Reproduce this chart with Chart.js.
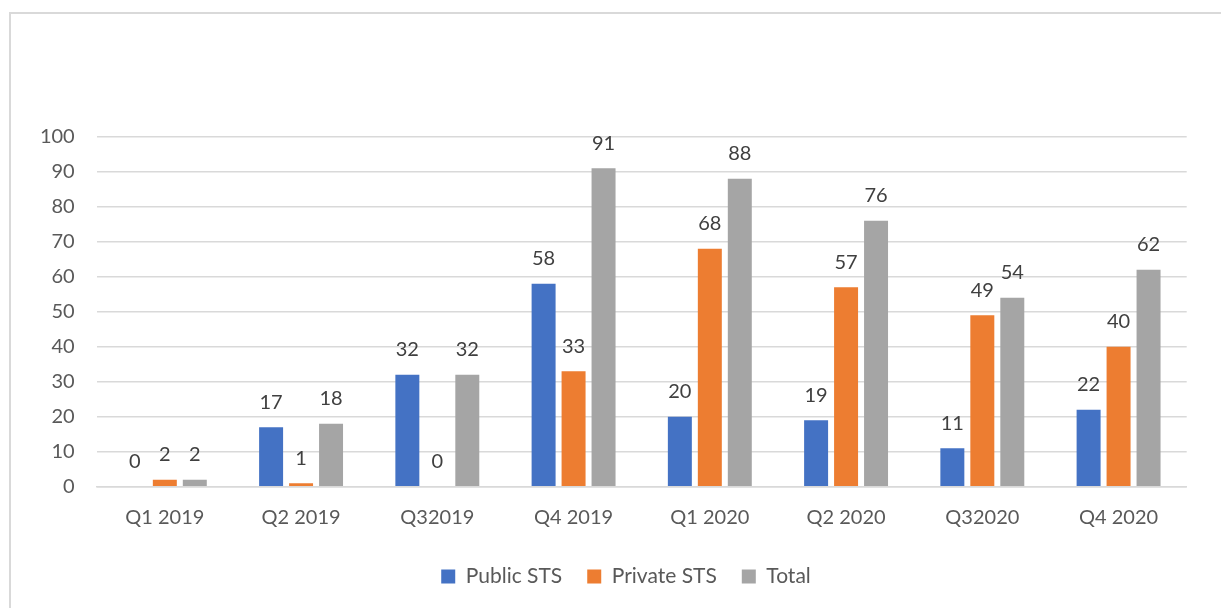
<!DOCTYPE html>
<html>
<head>
<meta charset="utf-8">
<script src="https://cdn.jsdelivr.net/npm/chart.js@4/dist/chart.umd.min.js"></script>
<style>
  html, body { margin: 0; padding: 0; background: #fff; overflow: hidden; width: 1221px; height: 608px; }
  #frame { position: absolute; left: 9px; top: 12px; width: 1240px; height: 620px; border: 2px solid #D9D9D9; box-sizing: border-box; }
  #c { position: absolute; left: 10px; top: 13px; }
</style>
</head>
<body>
<div id="frame"></div>
<canvas id="c" width="1232" height="595"></canvas>
<script>
const categories = ['Q1 2019', 'Q2 2019', 'Q32019', 'Q4 2019', 'Q1 2020', 'Q2 2020', 'Q32020', 'Q4 2020'];
const publicSTS  = [0, 17, 32, 58, 20, 19, 11, 22];
const privateSTS = [2, 1, 0, 33, 68, 57, 49, 40];
const totalSTS   = [2, 18, 32, 91, 88, 76, 54, 62];
const seriesNames = ['Public STS', 'Private STS', 'Total'];
const yTicks = [0, 10, 20, 30, 40, 50, 60, 70, 80, 90, 100];

const FONT = 'Lato, "Open Sans", sans-serif';

const valueLabels = {
  id: 'valueLabels',
  afterDatasetsDraw(chart) {
    const ctx = chart.ctx;
    ctx.save();
    ctx.font = '20px ' + FONT;
    ctx.fillStyle = '#404040';
    ctx.textAlign = 'center';
    ctx.textBaseline = 'middle';
    chart.data.datasets.forEach((ds, i) => {
      const meta = chart.getDatasetMeta(i);
      meta.data.forEach((el, j) => {
        ctx.fillText(String(ds.data[j]), el.x, el.y - 25);
      });
    });
    ctx.restore();
  }
};

// centre the legend on the whole canvas rather than on the padded area
const legendCentre = {
  id: 'legendCentre',
  afterLayout(chart) {
    const lg = chart.legend;
    if (!lg) return;
    const shift = (chart.width - lg.right - lg.left) / 2;
    lg.left += shift;
    lg.right += shift;
  }
};

new Chart(document.getElementById('c'), {
  type: 'bar',
  data: {
    labels: categories,
    datasets: [
      { label: seriesNames[0], data: publicSTS,  backgroundColor: '#4472C4' },
      { label: seriesNames[1], data: privateSTS, backgroundColor: '#ED7D31' },
      { label: seriesNames[2], data: totalSTS,   backgroundColor: '#A5A5A5' }
    ]
  },
  options: {
    responsive: false,
    animation: false,
    devicePixelRatio: 1,
    categoryPercentage: 0.66,
    barPercentage: 0.8,
    layout: { padding: { left: 0, top: 123.7, right: 55.3, bottom: 11 } },
    plugins: {
      legend: {
        position: 'bottom',
        labels: {
          boxWidth: 14, boxHeight: 14, padding: 25,
          color: '#595959',
          font: { family: FONT, size: 21 }
        }
      },
      tooltip: { enabled: false }
    },
    scales: {
      x: {
        grid: { display: false, drawTicks: false },
        border: { display: true, color: '#D9D9D9', width: 1.5 },
        ticks: { color: '#595959', font: { family: FONT, size: 20 }, padding: 19, maxRotation: 0 },
        afterFit(scale) { scale.height = 54.3; }
      },
      y: {
        min: 0, max: 100,
        afterBuildTicks(scale) { scale.ticks = yTicks.map(v => ({ value: v })); },
        grid: { color: '#D9D9D9', lineWidth: 1.5, drawTicks: false },
        border: { display: false },
        ticks: { color: '#595959', font: { family: FONT, size: 20 }, padding: 22 },
        afterFit(scale) { scale.width = 86.7; }
      }
    }
  },
  plugins: [valueLabels, legendCentre]
});
</script>
</body>
</html>
